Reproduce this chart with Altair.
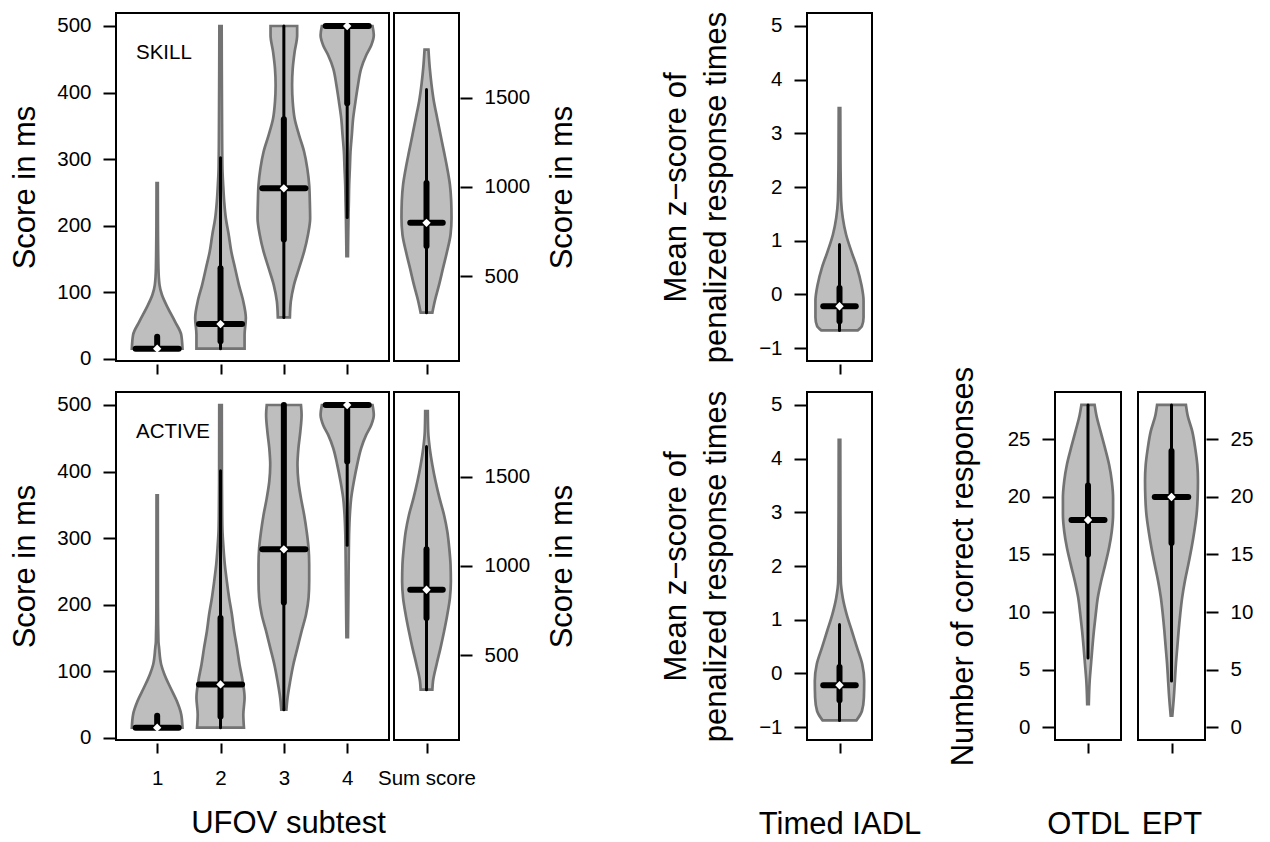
import altair as alt
import pandas as pd

FONT = "Liberation Sans"
FILL = "#bebebe"
EDGE = "#737373"

# ---------------- SKILL: UFOV subtests (score in ms) ----------------
SK1_Y = [15, 36, 56, 76, 96, 111, 136, 200, 264]
SK1_W = [0.40, 0.38, 0.28, 0.17, 0.075, 0.037, 0.02, 0.012, 0.01]
SK2_Y = [15, 36, 61, 86, 111, 136, 161, 186, 211, 236, 261, 286, 336, 436, 500]
SK2_W = [0.38, 0.38, 0.40, 0.36, 0.29, 0.23, 0.17, 0.13, 0.084, 0.058, 0.042, 0.03, 0.025, 0.02, 0.018]
SK3_Y = [62, 86, 111, 136, 161, 186, 211, 236, 261, 286, 311, 336, 361, 386, 411, 436, 461, 486, 500]
SK3_W = [0.095, 0.11, 0.16, 0.24, 0.32, 0.38, 0.415, 0.41, 0.40, 0.37, 0.32, 0.24, 0.17, 0.14, 0.13, 0.14, 0.17, 0.21, 0.21]
SK4_Y = [154, 186, 211, 236, 261, 286, 311, 336, 361, 386, 411, 436, 456, 471, 486, 500]
SK4_W = [0.012, 0.016, 0.02, 0.026, 0.031, 0.042, 0.052, 0.073, 0.094, 0.13, 0.17, 0.22, 0.30, 0.38, 0.42, 0.40]
SKS_Y = [295, 360, 453, 547, 640, 733, 827, 920, 1013, 1106, 1200, 1293, 1386, 1480, 1573, 1666, 1769]
SKS_W = [0.09, 0.128, 0.195, 0.256, 0.318, 0.37, 0.385, 0.38, 0.36, 0.318, 0.267, 0.215, 0.164, 0.113, 0.077, 0.05, 0.03]
# box statistics: median, q1, q3, lower whisker, upper whisker
SK_MED = [15, 52, 256, 500]
SK_Q1 = [15, 26, 179, 384]
SK_Q3 = [33, 136, 360, 500]
SK_LO = [15, 15, 62, 212]
SK_HI = [33, 302, 500, 500]
SKS_STATS = [798, 668, 1022, 295, 1545]

# ---------------- ACTIVE: UFOV subtests ----------------
AC1_Y = [15, 35, 55, 75, 95, 110, 135, 145, 200, 364]
AC1_W = [0.40, 0.38, 0.31, 0.21, 0.115, 0.063, 0.03, 0.02, 0.012, 0.01]
AC2_Y = [15, 35, 60, 85, 110, 135, 160, 185, 210, 235, 260, 285, 310, 335, 385, 500]
AC2_W = [0.37, 0.36, 0.38, 0.35, 0.30, 0.26, 0.215, 0.18, 0.136, 0.10, 0.068, 0.047, 0.031, 0.026, 0.022, 0.02]
AC3_Y = [42, 60, 85, 110, 135, 160, 185, 210, 235, 260, 285, 310, 335, 360, 385, 410, 435, 460, 485, 500]
AC3_W = [0.04, 0.058, 0.10, 0.15, 0.215, 0.28, 0.35, 0.39, 0.40, 0.40, 0.39, 0.36, 0.32, 0.27, 0.23, 0.215, 0.23, 0.26, 0.28, 0.27]
AC4_Y = [151, 185, 235, 285, 310, 335, 360, 385, 410, 435, 455, 470, 485, 500]
AC4_W = [0.012, 0.016, 0.021, 0.026, 0.031, 0.042, 0.063, 0.105, 0.157, 0.22, 0.30, 0.38, 0.42, 0.40]
ACS_Y = [306, 353, 446, 539, 632, 726, 819, 912, 1006, 1099, 1192, 1285, 1379, 1472, 1565, 1659, 1752, 1867]
ACS_W = [0.09, 0.10, 0.154, 0.215, 0.27, 0.32, 0.36, 0.375, 0.37, 0.35, 0.32, 0.27, 0.20, 0.14, 0.09, 0.05, 0.026, 0.02]
AC_MED = [15, 80, 283, 500]
AC_Q1 = [15, 32, 203, 415]
AC_Q3 = [33, 180, 500, 500]
AC_LO = [15, 15, 42, 289]
AC_HI = [33, 401, 500, 500]
ACS_STATS = [866, 707, 1093, 306, 1668]

# ---------------- Timed IADL ----------------
TI1_Y = [-0.67, -0.59, -0.43, -0.12, 0.19, 0.50, 0.81, 1.12, 1.43, 1.74, 2.0, 2.5, 3.47]
TI1_W = [0.28, 0.345, 0.37, 0.37, 0.335, 0.27, 0.18, 0.10, 0.05, 0.025, 0.02, 0.015, 0.012]
TI1_STATS = [-0.22, -0.50, 0.12, -0.67, 0.93]
TI2_Y = [-0.875, -0.70, -0.45, -0.14, 0.17, 0.48, 0.79, 1.10, 1.41, 1.72, 2.03, 3.0, 4.35]
TI2_W = [0.26, 0.345, 0.375, 0.38, 0.35, 0.27, 0.19, 0.11, 0.05, 0.02, 0.018, 0.014, 0.012]
TI2_STATS = [-0.22, -0.50, 0.12, -0.875, 0.91]

# ---------------- OTDL / EPT ----------------
OT_Y = [2.0, 4.0, 5.5, 6.9, 8.4, 9.8, 11.3, 12.7, 14.1, 15.6, 17.0, 18.5, 19.9, 21.4, 22.8, 24.2, 25.7, 27.1, 28.0]
OT_W = [0.012, 0.025, 0.046, 0.066, 0.09, 0.117, 0.15, 0.20, 0.26, 0.32, 0.36, 0.38, 0.38, 0.36, 0.32, 0.26, 0.19, 0.127, 0.10]
OT_STATS = [18, 15, 21, 6, 28]
EP_Y = [1.0, 2.6, 4.0, 5.5, 6.9, 8.4, 9.8, 11.3, 12.7, 14.1, 15.6, 17.0, 18.5, 19.9, 21.4, 22.8, 24.2, 25.7, 27.1, 28.0]
EP_W = [0.012, 0.035, 0.05, 0.066, 0.086, 0.107, 0.13, 0.16, 0.20, 0.25, 0.30, 0.34, 0.375, 0.39, 0.395, 0.385, 0.355, 0.31, 0.24, 0.215]
EP_STATS = [20, 16, 24, 4, 28]

SUBTESTS = [1, 2, 3, 4]
ROW_LABELS = ["SKILL", "ACTIVE"]


def outline_df(centers, ys, ws):
    rows = []
    for c, yl, wl in zip(centers, ys, ws):
        for y, w in zip(yl, wl):
            rows.append({"c": c, "y": y, "w": w})
    return pd.DataFrame(rows)


def stats_df(centers, med, q1, q3, lo, hi):
    return pd.DataFrame({"c": centers, "med": med, "q1": q1, "q3": q3, "lo": lo, "hi": hi})


def panel(odf, sdf, xdom, ydom, width, height, xaxis, yaxis, bar, label=None):
    xs = alt.Scale(domain=xdom, nice=False, zero=False)
    ys = alt.Scale(domain=ydom, nice=False, zero=False)

    def X(f):
        return alt.X(f, type="quantitative", scale=xs, axis=xaxis)

    def Y(f):
        return alt.Y(f, type="quantitative", scale=ys, axis=yaxis)

    area = alt.Chart(odf).transform_calculate(
        xl="datum.c - datum.w", xr="datum.c + datum.w"
    ).mark_area(orient="horizontal", interpolate="monotone", fill=FILL,
                stroke=EDGE, strokeWidth=2.7, fillOpacity=1).encode(
        y=Y("y"), x=X("xl"), x2="xr", detail="c:N")
    whisk = alt.Chart(sdf).mark_rule(color="black", strokeWidth=3, strokeCap="round").encode(
        x=X("c"), y=Y("lo"), y2="hi")
    box = alt.Chart(sdf).mark_rule(color="black", strokeWidth=6, strokeCap="round").encode(
        x=X("c"), y=Y("q1"), y2="q3")
    medbar = alt.Chart(sdf).transform_calculate(
        ml=f"datum.c - {bar}", mr=f"datum.c + {bar}"
    ).mark_rule(color="black", strokeWidth=6, strokeCap="round").encode(
        x=X("ml"), x2="mr", y=Y("med"))
    pt = alt.Chart(sdf).mark_point(shape="diamond", filled=True, fill="white",
                                   strokeWidth=0, size=70, opacity=1).encode(
        x=X("c"), y=Y("med"))
    layers = [area, whisk, box, medbar, pt]
    if label is not None:
        txt = alt.Chart(pd.DataFrame({"t": [label]})).mark_text(
            align="left", baseline="middle", font=FONT, fontSize=20.5, color="black"
        ).encode(x=alt.value(20), y=alt.value(40), text="t:N")
        layers.append(txt)
    return alt.layer(*layers).properties(width=width, height=height)


def spacer(w, h=348):
    return alt.Chart(pd.DataFrame({"s": [0]})).mark_point(opacity=0).encode(
        x=alt.value(0), y=alt.value(0)
    ).properties(width=w, height=h, view=alt.ViewBackground(stroke="transparent"))


H = 348
A_XDOM = [0.35, 4.66]
A_YDOM = [-3.5, 519.5]
S_XDOM = [0.5, 1.5]
S_YDOM = [24, 1974]
M_YDOM = [-1.24, 5.24]
O_YDOM = [-1.12, 29.12]

yA = alt.Axis(values=[0, 100, 200, 300, 400, 500], orient="left", tickSize=12, offset=1,
              labelPadding=12, format="d", title="Score in ms", titlePadding=15)
yS = alt.Axis(values=[500, 1000, 1500], orient="right", tickSize=12, offset=1,
              labelPadding=12, format="d", title="Score in ms", titleAngle=270, titlePadding=49)
yM = alt.Axis(values=[-1, 0, 1, 2, 3, 4, 5], orient="left", tickSize=12, offset=1,
              labelPadding=12, format="d", title=["Mean z\u2212score of", "penalized response times"],
              titlePadding=26, titleLineHeight=40)
yO = alt.Axis(values=[0, 5, 10, 15, 20, 25], orient="left", tickSize=12, offset=1,
              labelPadding=12, format="d", title="Number of correct responses", titlePadding=28)
yE = alt.Axis(values=[0, 5, 10, 15, 20, 25], orient="right", tickSize=12, offset=1,
              labelPadding=12, format="d", title=None)

xA_top = alt.Axis(values=SUBTESTS, labels=False, tickSize=10, offset=3, title=None)
xA_bot = alt.Axis(values=SUBTESTS, format="d", tickSize=10, offset=3,
                  labelPadding=15, title="UFOV subtest", titleX=172, titlePadding=20)
xS_top = alt.Axis(values=[1], labels=False, tickSize=10, offset=3, title=None)
xS_bot = alt.Axis(values=[1], labelExpr="'Sum score'", tickSize=10, offset=3,
                  labelPadding=15, title=None)
xM_top = alt.Axis(values=[1], labels=False, tickSize=10, offset=3, title=None)
xM_bot = alt.Axis(values=[1], labels=False, tickSize=10, offset=3, title="Timed IADL",
                  titlePadding=55)
xO = alt.Axis(values=[1], labels=False, tickSize=10, offset=3, title="OTDL", titlePadding=55)
xE = alt.Axis(values=[1], labels=False, tickSize=10, offset=3, title="EPT", titlePadding=55)

sk_panel = panel(outline_df(SUBTESTS, [SK1_Y, SK2_Y, SK3_Y, SK4_Y], [SK1_W, SK2_W, SK3_W, SK4_W]),
                 stats_df(SUBTESTS, SK_MED, SK_Q1, SK_Q3, SK_LO, SK_HI),
                 A_XDOM, A_YDOM, 273, H, xA_top, yA, 0.34, ROW_LABELS[0])
sk_sum = panel(outline_df([1], [SKS_Y], [SKS_W]),
               stats_df([1], *[[v] for v in SKS_STATS]),
               S_XDOM, S_YDOM, 65, H, xS_top, yS, 0.25)
ti1 = panel(outline_df([1], [TI1_Y], [TI1_W]),
            stats_df([1], *[[v] for v in TI1_STATS]),
            S_XDOM, M_YDOM, 65, H, xM_top, yM, 0.25)

ac_panel = panel(outline_df(SUBTESTS, [AC1_Y, AC2_Y, AC3_Y, AC4_Y], [AC1_W, AC2_W, AC3_W, AC4_W]),
                 stats_df(SUBTESTS, AC_MED, AC_Q1, AC_Q3, AC_LO, AC_HI),
                 A_XDOM, A_YDOM, 273, H, xA_bot, yA, 0.34, ROW_LABELS[1])
ac_sum = panel(outline_df([1], [ACS_Y], [ACS_W]),
               stats_df([1], *[[v] for v in ACS_STATS]),
               S_XDOM, S_YDOM, 65, H, xS_bot, yS, 0.25)
ti2 = panel(outline_df([1], [TI2_Y], [TI2_W]),
            stats_df([1], *[[v] for v in TI2_STATS]),
            S_XDOM, M_YDOM, 65, H, xM_bot, yM, 0.25)
ot = panel(outline_df([1], [OT_Y], [OT_W]),
           stats_df([1], *[[v] for v in OT_STATS]),
           S_XDOM, O_YDOM, 66, H, xO, yO, 0.25)
ep = panel(outline_df([1], [EP_Y], [EP_W]),
           stats_df([1], *[[v] for v in EP_STATS]),
           S_XDOM, O_YDOM, 67, H, xE, yE, 0.25)

row1 = alt.hconcat(sk_panel, spacer(5), sk_sum, spacer(348), ti1, spacing=0, bounds="flush")
row2 = alt.hconcat(ac_panel, spacer(5), ac_sum, spacer(348), ti2, spacer(183), ot, spacer(17), ep,
                   spacing=0, bounds="flush")

chart = alt.vconcat(row1, row2, spacing=-11, bounds="full").properties(
    padding={"left": 0, "top": 1, "right": 5, "bottom": 5}
).configure_view(stroke="black", strokeWidth=2).configure_axis(
    domain=False, grid=False, tickColor="black", tickWidth=2,
    labelColor="black", labelFont=FONT, labelFontSize=20.5,
    titleFont=FONT, titleFontSize=31, titleFontWeight="normal", titleColor="black"
)

chart.save("out.html", embed_options={"renderer": "svg", "actions": False})
